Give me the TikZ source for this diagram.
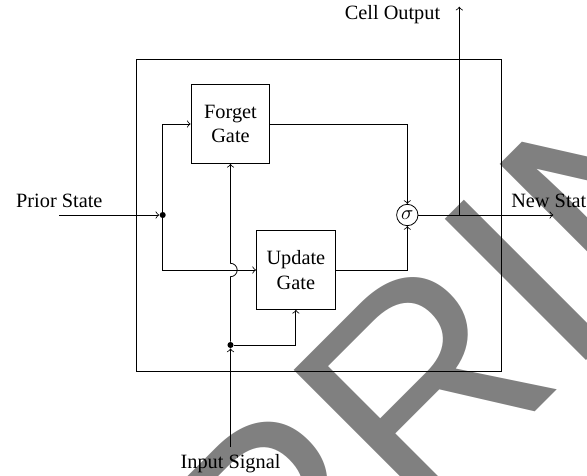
\documentclass[tikz,border=0pt]{standalone}
\usepackage{fontspec}
\setmainfont{Liberation Serif}
\newfontfamily\markfont{Liberation Sans}
\usetikzlibrary{positioning}

\tikzset{
  gate/.style={draw,semithick,minimum size=1.36cm,align=center,inner sep=1pt},
  junc/.style={circle,fill,inner sep=0pt,minimum size=3pt},
}

\begin{document}
\begin{tikzpicture}[x=0.1731cm,y=0.1731cm,>=to]
  \useasboundingbox (0,0) rectangle (58.7,47.5);

  \node (wmark) [rotate=45,anchor=base west,inner sep=0pt,text=black!50,
    font=\markfont\fontsize{143pt}{143pt}\selectfont] at (-14.05,-61.24) {PREPRINT};

  \draw[semithick] (13.67,10.33) rectangle (50.17,41.57);

  \node (forget) [gate] at (23.05,35.1) {Forget\\Gate};
  \node (update) [gate] at (29.59,20.5) {Update\\Gate};
  \node (sigma) [circle,draw,inner sep=0pt,minimum size=0.37cm] at (40.73,26) {$\sigma$};
  \node (split) [junc] at (16.27,26) {};
  \node (indot) [junc] at (23.05,13) {};

  \coordinate (prior) at (5.93,26);
  \coordinate (inbot) at (23.05,2.8);
  \coordinate (tap) at (45.93,26);
  \coordinate (outtop) at (45.93,46.83);
  \coordinate (newst) at (55.33,26);
  \coordinate (jump) at (indot |- update);

  \node (priortxt) [above] at (prior) {Prior State};
  \node (inputtxt) [below] at (inbot) {Input Signal};
  \node (newtxt) [above] at (newst) {New State};
  \node (celltxt) at (39.25,46) {Cell Output};

  \draw[->] (prior) -- (split);
  \draw[->] (split) |- (forget);
  \draw[->] (split) |- (update);
  \draw[->] (inbot) -- (indot);
  \draw[->] (indot) -- ([yshift=-3.3pt]jump) arc[start angle=-90,end angle=90,radius=3.3pt] -- (forget);
  \draw[->] (indot) -| (update);
  \draw[->] (forget) -| (sigma);
  \draw[->] (update) -| (sigma);
  \draw[->] (sigma) -- (newst);
  \draw[->] (tap) -- (outtop);
\end{tikzpicture}
\end{document}
